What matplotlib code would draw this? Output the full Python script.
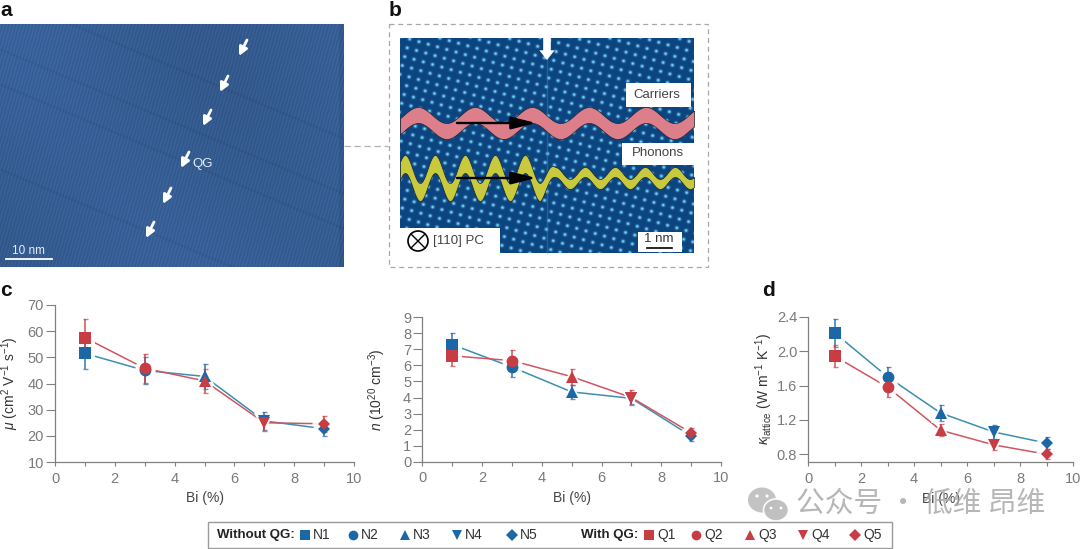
import numpy as np
import matplotlib
matplotlib.use('Agg')
from matplotlib import pyplot as plt
from matplotlib.patches import Rectangle, Circle, Ellipse

plt.rcParams['font.family'] = ['Liberation Sans', 'DejaVu Sans']
plt.rcParams['mathtext.fontset'] = 'custom'
plt.rcParams['mathtext.rm'] = 'Liberation Sans'
plt.rcParams['mathtext.it'] = 'Liberation Sans:italic'
plt.rcParams['mathtext.bf'] = 'Liberation Sans:bold'

bi = [1, 3, 5, 7, 9]
markers = ['s', 'o', '^', 'v', 'D']
marker_sizes = [8, 8.5, 8, 8, 6]

mu_without = [51.5, 45.0, 42.7, 25.7, 22.7]
mu_without_err = [6.0, 5.0, 4.8, 3.5, 2.7]
mu_with = [57.5, 45.8, 41.0, 25.0, 24.6]
mu_with_err = [7.0, 5.5, 4.5, 3.0, 3.0]

n_without = [7.3, 5.9, 4.35, 3.95, 1.6]
n_without_err = [0.75, 0.6, 0.45, 0.35, 0.3]
n_with = [6.6, 6.3, 5.3, 4.0, 1.8]
n_with_err = [0.65, 0.65, 0.5, 0.45, 0.3]

kappa_without = [2.21, 1.70, 1.28, 1.06, 0.93]
kappa_without_err = [0.16, 0.12, 0.09, 0.08, 0.07]
kappa_with = [1.94, 1.58, 1.08, 0.91, 0.80]
kappa_with_err = [0.13, 0.11, 0.07, 0.06, 0.06]

without_labels = ['N1', 'N2', 'N3', 'N4', 'N5']
with_labels = ['Q1', 'Q2', 'Q3', 'Q4', 'Q5']

BLUE = '#1c67a6'
RED = '#c83c44'
BLUE_LINE = '#3b8fb0'
RED_LINE = '#cf5660'
GREY = '#808080'
W, H = 1080, 549

fig = plt.figure(figsize=[W / 100, H / 100], dpi=100)


def add_px_axes(x0, x1, y_top, y_bottom, **kwargs):
    return fig.add_axes([x0 / W, 1 - y_bottom / H, (x1 - x0) / W, (y_bottom - y_top) / H], **kwargs)


def plot_panel(box, ylim, yticks, ylabel, label_x, without, without_err, with_, with_err):
    ax = add_px_axes(*box)
    for vals, errs, col, line_col in [(without, without_err, BLUE, BLUE_LINE), (with_, with_err, RED, RED_LINE)]:
        ax.plot(bi, vals, color=line_col, lw=1.1, zorder=2)
        for x, y, e, m, size in zip(bi, vals, errs, markers, marker_sizes):
            ax.errorbar(x, y, yerr=e, color=col, alpha=0.7, elinewidth=1.4, capsize=1.8,
                        capthick=1, zorder=3)
            ax.plot(x, y, m, ms=size + 6, color='white', mew=0, alpha=0.9, zorder=2.5)
        for x, y, m, size in zip(bi, vals, markers, marker_sizes):
            ax.plot(x, y, m, ms=size, color=col, mew=0, zorder=4)
    ax.set_xlim(0, 10)
    ax.set_ylim(*ylim)
    ax.set_xticks(range(0, 11, 2))
    ax.set_xticks(bi, minor=True)
    ax.set_yticks(yticks)
    if ylabel.startswith(r'$\kappa'):
        ax.set_yticklabels([f'{t:.1f}' for t in yticks])
    for s in ['top', 'right']:
        ax.spines[s].set_visible(False)
    for s in ['left', 'bottom']:
        ax.spines[s].set_color(GREY)
        ax.spines[s].set_linewidth(0.9)
    ax.tick_params(axis='y', which='major', length=6.5, width=0.8, color=GREY,
                   labelcolor='#7a7a7a', labelsize=10.5, pad=1.5)
    ax.tick_params(axis='x', which='major', length=3, width=0.8, color=GREY,
                   labelcolor='#7a7a7a', labelsize=10.5, pad=4)
    ax.tick_params(axis='x', which='minor', length=3, width=0.8, color=GREY)
    ax.set_xlabel('Bi (%)', fontsize=10, color='#444444', labelpad=4)
    ax.set_ylabel(ylabel, fontsize=10, color='#333333')
    # label_x is the pixel position of the label's right edge
    ax.yaxis.set_label_coords((label_x - box[0]) / (box[1] - box[0]), 0.5)
    ax.patch.set_alpha(0)
    return ax


plot_panel((55, 354, 305, 462), (10, 70), range(10, 71, 10), r'$\mu$ (cm$^2$ V$^{-1}$ s$^{-1}$)', 21,
           mu_without, mu_without_err, mu_with, mu_with_err)
plot_panel((422.3, 721, 317.3, 461.7), (0, 9), range(0, 10), r'$n$ (10$^{20}$ cm$^{-3}$)', 388,
           n_without, n_without_err, n_with, n_with_err)
plot_panel((808.3, 1073, 316.7, 462.3), (0.707, 2.4), [0.8, 1.2, 1.6, 2.0, 2.4],
           r'$\kappa_{\mathrm{lattice}}$ (W m$^{-1}$ K$^{-1}$)', 775,
           kappa_without, kappa_without_err, kappa_with, kappa_with_err)

# Overlay in pixel coordinates for the micrographs, annotations and legend
ov = fig.add_axes([0, 0, 1, 1], zorder=-1)
ov.axis('off')
top = fig.add_axes([0, 0, 1, 1], zorder=10)
top.axis('off')
top.patch.set_alpha(0)

# Panel a micrograph texture
yy, xx = np.mgrid[24:267, 0:344]
stripes = np.cos(2 * np.pi * (xx + 0.28 * yy) / 3.4)
slow = np.cos((xx - 0.6 * yy) / 55.0) + 0.6 * np.cos((xx + yy) / 90.0)
shade = 0.37 + 0.022 * stripes + 0.012 * slow
shade -= 0.03 * (xx > 338)
for y0 in [-30, 25, 60, 145]:
    shade -= 0.025 * np.exp(-((yy - 24 - y0 - 0.42 * xx) / 1.2) ** 2)
rgb_a = np.dstack([shade * 0.58, shade * 1.0, shade * 1.58])
ov.imshow(np.clip(rgb_a, 0, 1), extent=[0, 344, 267, 24], aspect='auto', interpolation='bilinear', zorder=1)

# Panel b lattice texture
yy, xx = np.mgrid[38:253, 400:694]
u = (xx + 0.28 * yy) * 2 * np.pi / 10.0
v = (yy - 0.28 * xx) * 2 * np.pi / 9.5
lat = np.clip((np.cos(u) + 1) * (np.cos(v) + 1) / 4, 0, 1) ** 3
col_low = np.array([0.05, 0.27, 0.50])
col_high = np.array([0.48, 0.85, 1.0])
rgb_b = col_low + lat[..., None] * (col_high - col_low)
ov.imshow(rgb_b, extent=[400, 694, 253, 38], aspect='auto', interpolation='bilinear', zorder=1)
ov.set_xlim(0, W)
ov.set_ylim(H, 0)
ov.plot([547, 547], [58, 253], color='#2f8fd0', lw=1.0, alpha=0.45, zorder=2)

# Dashed frame and connector
ov.add_patch(Rectangle((389, 24), 319, 243, fill=False, ec='#a8a8a8', lw=0.9, ls=(0, (4, 3)), zorder=2))
ov.plot([344, 388], [146, 146], color='#b0b0b0', lw=0.9, ls=(0, (5, 3)), zorder=2)

# Carrier and phonon waves
wx = np.linspace(400, 694, 900)
pink = 123 - 8 * np.cos((wx - 418) * 2 * np.pi / 57)
ov.fill_between(wx, pink - 8, pink + 8, fc='#dc7f8a', ec='#1a2530', lw=0.5, zorder=3)
amp = np.interp(wx, [540, 555], [14, 6])
half = np.interp(wx, [540, 555], [9, 5])
yel = 178 - amp * np.cos((wx - 405) * 2 * np.pi / 30)
ov.fill_between(wx, yel - half, yel + half, fc='#c9c93e', ec='#1a2530', lw=0.5, zorder=3)
for y in [123, 178]:
    ov.annotate('', xy=(536, y), xytext=(457, y), zorder=4,
                arrowprops=dict(arrowstyle='-|>,head_width=0.38,head_length=1.5', color='black', lw=1.7,
                                shrinkA=0, shrinkB=0))

# White callouts in b
for x, y, w, h in [(626, 83, 65, 24), (622, 143, 72, 22), (400, 228, 100, 25), (638, 232, 44, 20)]:
    ov.add_patch(Rectangle((x, y), w, h, fc='white', ec='none', zorder=5))
ov.text(657, 95, 'Carriers', ha='center', va='center', fontsize=9.5, color='#444444', zorder=6)
ov.text(658, 153, 'Phonons', ha='center', va='center', fontsize=9.5, color='#444444', zorder=6)
ov.text(433, 241, '[110] PC', ha='left', va='center', fontsize=9.5, color='#444444', zorder=6)
ov.text(659, 239, '1 nm', ha='center', va='center', fontsize=9.5, color='#333333', zorder=6)
ov.plot([647, 672], [248, 248], color='black', lw=1.2, zorder=6)
ov.add_patch(Circle((418, 241), 10, fc='white', ec='black', lw=1.2, zorder=6))
ov.plot([411, 425], [234, 248], color='black', lw=1.0, zorder=7)
ov.plot([411, 425], [248, 234], color='black', lw=1.0, zorder=7)
ov.annotate('', xy=(547, 60), xytext=(547, 38), zorder=6,
            arrowprops=dict(width=5.5, headwidth=11, headlength=7, fc='white', ec='none',
                            shrink=0))

# Arrows and labels in a
for x, y in [(239, 56), (220, 92), (203, 126), (181, 168), (163, 204), (146, 238)]:
    ov.annotate('', xy=(x, y), xytext=(x + 8, y - 16), zorder=6,
                arrowprops=dict(arrowstyle='-|>,head_width=0.25,head_length=0.5', color='white', lw=2,
                                shrinkA=0, shrinkB=0))
ov.text(192, 164, 'QG', color='#e6ecf5', fontsize=9.5, ha='left', va='center', zorder=6)
ov.text(29, 251, '10 nm', color='#e6ecf5', fontsize=8.5, ha='center', va='center', zorder=6)
ov.plot([6, 52], [259, 259], color='white', lw=1.3, zorder=6)
ov.set_xlim(0, W)
ov.set_ylim(H, 0)

# Panel letters
top.set_xlim(0, W)
top.set_ylim(H, 0)
for txt, x, y in [('a', 0, 11), ('b', 389, 10), ('c', 0, 291), ('d', 762, 291)]:
    top.text(x, y, txt, fontsize=15, fontweight='bold', ha='left', va='center', color='#111111')

# Watermark
top.add_patch(Ellipse((762, 500), 28, 25, fc='#bdbdbd', ec='none', alpha=0.9))
top.add_patch(Ellipse((776, 510), 25, 22, fc='#bdbdbd', ec='white', lw=1.2, alpha=0.95))
for cx, cy in [(757, 496), (767, 496)]:
    top.add_patch(Circle((cx, cy), 1.6, fc='white', ec='none'))
for cx, cy in [(771, 508), (781, 508)]:
    top.add_patch(Circle((cx, cy), 1.4, fc='white', ec='none'))
top.text(796, 504, '公众号 · 低维 昂维', fontsize=20.7, color='#a9a9a9', alpha=0.85, ha='left', va='center',
         family=['Noto Sans CJK SC', 'DejaVu Sans'])

# Legend strip
top.add_patch(Rectangle((208, 522), 684, 26, fc='white', ec='#9a9a9a', lw=1.0))
top.text(217, 535, 'Without QG:', fontsize=9.5, fontweight='bold', color='#222222', ha='left', va='center')
top.text(581, 535, 'With QG:', fontsize=9.5, fontweight='bold', color='#222222', ha='left', va='center')
without_marker_x = [305, 353, 405, 457, 512]
with_marker_x = [649, 696, 750, 803, 855]
for mx, m, lab in zip(without_marker_x, markers, without_labels):
    top.plot(mx, 535, m, ms=7 if m != 'D' else 6, color=BLUE, mew=0)
    top.text(mx + 8, 535, lab, fontsize=10, color='#333333', ha='left', va='center')
for mx, m, lab in zip(with_marker_x, markers, with_labels):
    top.plot(mx, 535, m, ms=7 if m != 'D' else 6, color=RED, mew=0)
    top.text(mx + 8, 535, lab, fontsize=10, color='#333333', ha='left', va='center')
top.set_xlim(0, W)
top.set_ylim(H, 0)

fig.savefig('out.png', dpi=100)
